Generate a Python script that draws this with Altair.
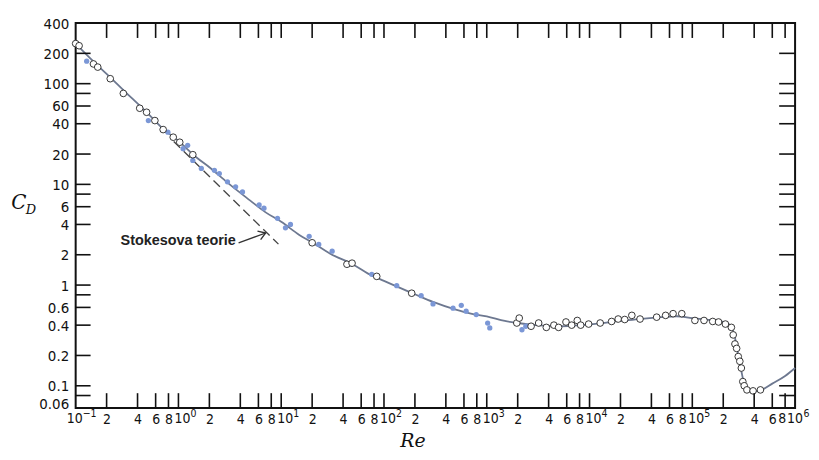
import altair as alt
import pandas as pd

# ---- data ----
re_line = [0.1, 0.15, 0.2, 0.3, 0.5, 0.7, 1, 1.5, 2, 3, 5, 7, 10, 15, 20, 30, 50, 70,
           100, 200, 300, 500, 700, 1000, 1500, 2000, 3000, 5000, 7000, 1e4, 2e4, 3e4,
           5e4, 7e4, 1e5, 1.5e5, 2e5, 2.4e5, 2.6e5, 2.8e5, 3.0e5, 3.2e5, 3.5e5, 4e5,
           4.6e5, 6e5, 8e5, 1e6]
cd_line = [250, 165, 125, 84, 51, 36, 27, 18.5, 14.8, 10.4, 6.9, 5.3, 4.25, 3.15, 2.65,
           2.05, 1.6, 1.3, 1.1, 0.81, 0.68, 0.57, 0.52, 0.49, 0.44, 0.42, 0.40, 0.39,
           0.395, 0.405, 0.44, 0.46, 0.48, 0.49, 0.47, 0.45, 0.43, 0.39, 0.30, 0.2,
           0.14, 0.105, 0.092, 0.088, 0.09, 0.105, 0.125, 0.15]

re_open = [0.1, 0.108, 0.149, 0.164, 0.217, 0.291, 0.42, 0.49, 0.59, 0.71, 0.89, 1.03,
           1.38, 20, 43.6, 48.9, 85, 186, 1960, 2070, 2700, 3200, 3800, 4500, 5000,
           5900, 6700, 7600, 8200, 9800, 1.27e4, 1.64e4, 1.9e4, 2.2e4, 2.58e4, 3.1e4,
           4.5e4, 5.5e4, 6.5e4, 7.9e4, 1.06e5, 1.3e5, 1.58e5, 1.8e5, 2.1e5, 2.4e5,
           2.5e5, 2.6e5, 2.7e5, 2.8e5, 2.9e5, 3.0e5, 3.1e5, 3.2e5, 3.4e5, 3.9e5, 4.6e5]
cd_open = [250, 238, 157, 146, 112, 80, 57, 52, 43, 35, 29.4, 26.2, 19.7, 2.63, 1.61,
           1.65, 1.22, 0.83, 0.42, 0.47, 0.39, 0.42, 0.38, 0.40, 0.38, 0.43, 0.40,
           0.445, 0.40, 0.41, 0.42, 0.435, 0.46, 0.455, 0.50, 0.46, 0.48, 0.50, 0.52,
           0.52, 0.445, 0.445, 0.435, 0.43, 0.41, 0.38, 0.32, 0.26, 0.235, 0.195,
           0.175, 0.15, 0.11, 0.10, 0.091, 0.089, 0.091]

re_blue = [0.128, 0.51, 0.79, 1.11, 1.23, 1.38, 1.67, 2.24, 2.5, 3.0, 3.6, 4.2, 6.1,
           6.8, 9.2, 11, 12.3, 18.7, 23.2, 31.3, 47, 76, 133, 230, 300, 470, 565, 630,
           790, 1020, 1070, 2200, 2400]
cd_blue = [167, 43, 33, 22.6, 24.4, 17.3, 14.4, 13.8, 12.8, 10.6, 9.45, 8.4, 6.25,
           5.8, 4.6, 3.7, 4.0, 3.05, 2.53, 2.17, 1.61, 1.28, 0.985, 0.785, 0.65, 0.59,
           0.63, 0.55, 0.51, 0.42, 0.375, 0.36, 0.39]

re_stokes = [0.9, 9.4]
cd_stokes = [26.7, 2.55]

re_arrow = [3.85, 7.06]
cd_arrow = [2.62, 3.29]

ylabel_vals = [400, 200, 100, 60, 40, 20, 10, 6, 4, 2, 1, 0.6, 0.4, 0.2, 0.1, 0.06]
ytick_vals = [200, 100, 80, 60, 40, 20, 10, 8, 6, 4, 2, 1, 0.8, 0.6, 0.4, 0.2, 0.1, 0.08]
decades = [0.1, 1, 10, 100, 1000, 1e4, 1e5, 1e6]
exponents = ["−1", "0", "1", "2", "3", "4", "5", "6"]
mults = [1, 2, 4, 6, 8]
xlabel_vals = [d * k for d in decades[:-1] for k in mults if not (d == 1e5 and k == 8)]
last_mult_val = [8e5]
last_mult_txt = ["8"]
xtick_vals = [d * k for d in decades[:-1] for k in mults if d * k > 0.15]

W, H = 723, 387
TL = 15
XFS = 14

FONT = "'Liberation Sans Narrow', 'DejaVu Sans Condensed', 'Liberation Sans', sans-serif"
SERIF = "'DejaVu Serif', 'Liberation Serif', serif"

e = "floor(log(datum.value)/LN10+1e-6)"
m = f"round(datum.value/pow(10,{e}))"
xlabel_expr = f"{m}==1 ? '' : ''+{m}"

xscale = alt.Scale(type="log", domain=[0.1, 1e6], nice=False)
yscale = alt.Scale(type="log", domain=[0.06, 400], nice=False)

xaxis = alt.Axis(values=xlabel_vals, labelExpr=xlabel_expr, title=None, grid=False,
                 domain=False, ticks=False, labelPadding=4, labelFont=FONT,
                 labelFontSize=XFS, labelColor="#111", labelOverlap=False,
                 labelFlush=False, labelBound=False, labelAlign="center")
yaxis = alt.Axis(values=ylabel_vals, format="~g", title=None, grid=False, domain=False,
                 ticks=False, labelPadding=7, labelFont=FONT, labelFontSize=15,
                 labelColor="#111", labelOverlap=False, labelFlush=False, labelBound=False,
                 labelBaseline={"condition": {"test": "datum.value < 0.07",
                                              "value": "alphabetic"},
                                "value": "middle"})

X = alt.X("re:Q", scale=xscale, axis=xaxis)
Y = alt.Y("cd:Q", scale=yscale, axis=yaxis)

df_line = pd.DataFrame({"re": re_line, "cd": cd_line})
df_open = pd.DataFrame({"re": re_open, "cd": cd_open})
df_blue = pd.DataFrame({"re": re_blue, "cd": cd_blue})
df_stokes = pd.DataFrame({"re": re_stokes, "cd": cd_stokes})
df_arrow = pd.DataFrame({"re": re_arrow, "cd": cd_arrow})
df_xt = pd.DataFrame({"re": xtick_vals})
df_yt = pd.DataFrame({"cd": ytick_vals})
df_dec = pd.DataFrame({"re": decades, "t": ["10"] * len(decades), "ex": exponents})
df_lm = pd.DataFrame({"re": last_mult_val, "t": last_mult_txt})

stokes = alt.Chart(df_stokes).mark_line(color="#444", strokeWidth=1.3,
                                        strokeDash=[9, 5]).encode(x=X, y=Y)
line = alt.Chart(df_line).mark_line(color="#6d7890", strokeWidth=1.8,
                                    interpolate="monotone").encode(x=X, y=Y)
blue = alt.Chart(df_blue).mark_point(filled=True, color="#7b97d6", size=28,
                                     opacity=1).encode(x=X, y=Y)
opn = alt.Chart(df_open).mark_point(shape="circle", filled=True, fill="white",
                                    stroke="#222", strokeWidth=0.9, size=45,
                                    opacity=1).encode(x=X, y=Y)

tick_style = dict(color="#111", strokeWidth=1.6)
top_t = alt.Chart(df_xt).mark_rule(**tick_style).encode(x=X, y=alt.value(0), y2=alt.value(TL))
bot_t = alt.Chart(df_xt).mark_rule(**tick_style).encode(x=X, y=alt.value(H - TL), y2=alt.value(H))
left_t = alt.Chart(df_yt).mark_rule(**tick_style).encode(y=Y, x=alt.value(0), x2=alt.value(TL))
right_t = alt.Chart(df_yt).mark_rule(**tick_style).encode(y=Y, x=alt.value(W - TL - 1), x2=alt.value(W))

# decade labels "10" with superscript exponent
dec_first = df_dec.iloc[[0]]
dec_mid = df_dec.iloc[1:-1]
dec_last = df_dec.iloc[[-1]]
ten_style = dict(font=FONT, fontSize=XFS, color="#111", baseline="top")
exp_style = dict(font=FONT, fontSize=10.5, color="#111", baseline="top", align="left")
tens_first = alt.Chart(dec_first).mark_text(align="center", dx=-1, **ten_style).encode(
    x=X, y=alt.value(H + 4), text="t:N")
tens_mid = alt.Chart(dec_mid).mark_text(align="center", dx=4, **ten_style).encode(
    x=X, y=alt.value(H + 4), text="t:N")
tens_last = alt.Chart(dec_last).mark_text(align="left", dx=-8, **ten_style).encode(
    x=X, y=alt.value(H + 4), text="t:N")
lm_text = alt.Chart(df_lm).mark_text(align="center", dx=-3, **ten_style).encode(
    x=X, y=alt.value(H + 4), text="t:N")
ex_first = alt.Chart(dec_first).mark_text(dx=7, **exp_style).encode(
    x=X, y=alt.value(H + 1), text="ex:N")
ex_mid = alt.Chart(dec_mid).mark_text(dx=12, **exp_style).encode(
    x=X, y=alt.value(H + 1), text="ex:N")
ex_last = alt.Chart(dec_last).mark_text(dx=8.5, **exp_style).encode(
    x=X, y=alt.value(H + 1), text="ex:N")

arrow_line = alt.Chart(df_arrow).mark_line(color="#333", strokeWidth=1.3).encode(x=X, y=Y)
arrow_head = alt.Chart(df_arrow.iloc[[1]]).mark_point(
    shape="M-1,-0.65L0,0L-1,0.65", filled=False, stroke="#333", strokeWidth=1.4,
    size=200, angle=340, opacity=1).encode(x=X, y=Y)

stokes_label = pd.DataFrame({"re": [3.62], "cd": [2.74], "t": ["Stokesova teorie"]})
stokes_text = alt.Chart(stokes_label).mark_text(
    align="right", baseline="middle", font="'Liberation Sans', Arial, sans-serif",
    fontSize=14.5, fontWeight="bold", color="#222").encode(x=X, y=Y, text="t:N")

c_df = pd.DataFrame({"t": ["C"]})
d_df = pd.DataFrame({"t": ["D"]})
re_df = pd.DataFrame({"t": ["Re"]})
c_text = alt.Chart(c_df).mark_text(font=SERIF, fontStyle="italic", fontSize=20,
                                   align="center", baseline="middle", color="#111").encode(
    x=alt.value(-57), y=alt.value(181), text="t:N")
d_text = alt.Chart(d_df).mark_text(font=SERIF, fontStyle="italic", fontSize=13,
                                   align="center", baseline="middle", color="#111").encode(
    x=alt.value(-45), y=alt.value(188), text="t:N")
re_text = alt.Chart(re_df).mark_text(font=SERIF, fontStyle="italic", fontSize=19,
                                     align="center", baseline="middle", color="#111").encode(
    x=alt.value(339), y=alt.value(420), text="t:N")

chart = alt.layer(
    stokes, line, blue, opn, top_t, bot_t, left_t, right_t,
    tens_first, tens_mid, tens_last, lm_text, ex_first, ex_mid, ex_last,
    arrow_line, arrow_head, stokes_text, c_text, d_text, re_text
).properties(
    width=W, height=H,
    autosize=alt.AutoSizeParams(type="none"),
    padding={"left": 68, "top": 14, "right": 16, "bottom": 43},
    background="white",
).configure_view(stroke="#111", strokeWidth=2)

chart.save("out.html", embed_options={"renderer": "svg", "actions": False})
